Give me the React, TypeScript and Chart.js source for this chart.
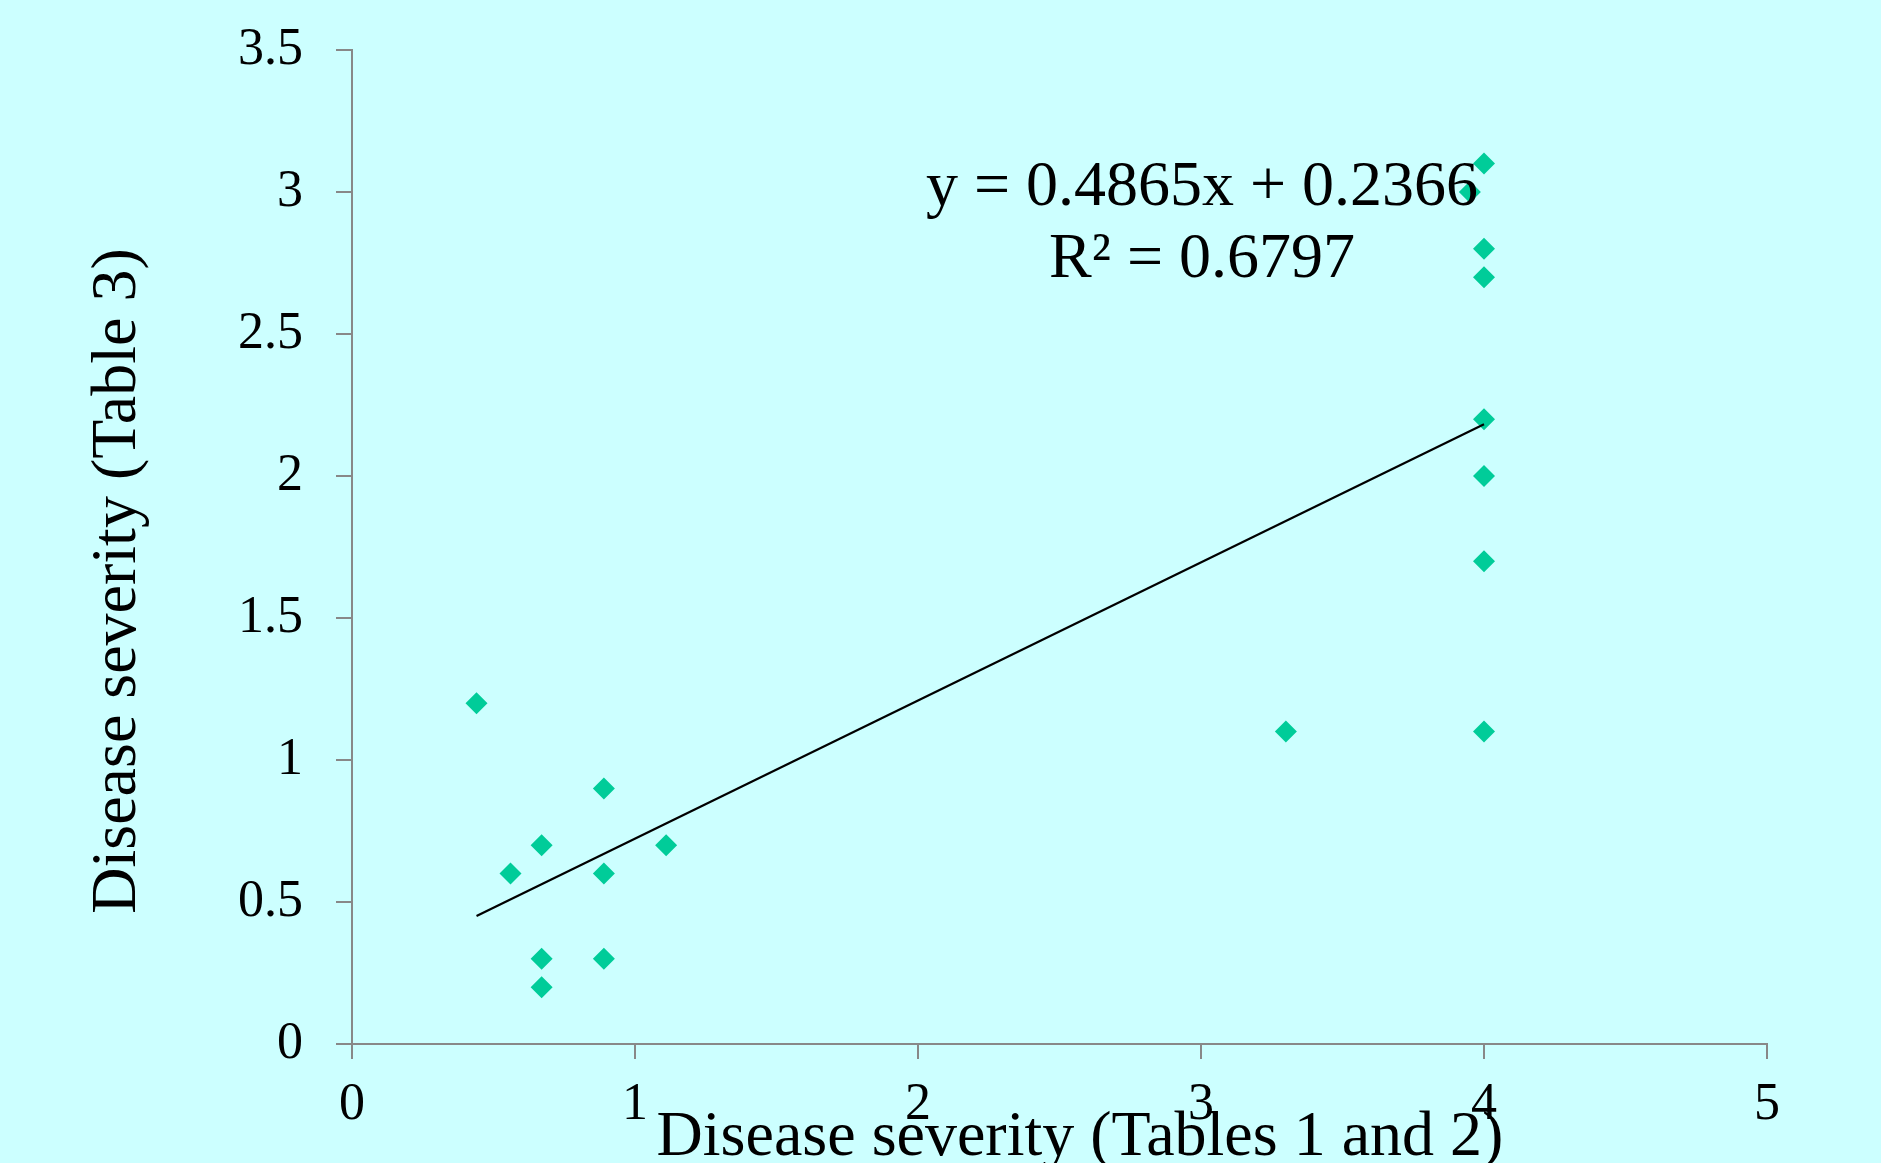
import React, { useEffect, useRef } from 'react';
import { Chart, registerables } from 'chart.js';

Chart.register(...registerables);

// Disease severity, Tables 1 and 2 (x) vs Table 3 (y)
const severityTables12 = [0.44, 0.56, 0.67, 0.67, 0.67, 0.89, 0.89, 0.89, 1.11, 3.3, 3.95, 4, 4, 4, 4, 4, 4, 4];
const severityTable3 = [1.2, 0.6, 0.7, 0.3, 0.2, 0.9, 0.6, 0.3, 0.7, 1.1, 3.0, 1.1, 1.7, 2.0, 2.2, 2.7, 2.8, 3.1];

const xTickValues = [0, 1, 2, 3, 4, 5];
const yTickValues = [0, 0.5, 1, 1.5, 2, 2.5, 3, 3.5];

const trendSlope = 0.4865;
const trendIntercept = 0.2366;
const trendR2 = 0.6797;

const xAxisTitle = 'Disease severity (Tables 1 and 2)';
const yAxisTitle = 'Disease severity (Table 3)';

const FONT = "'Liberation Serif', 'Times New Roman', Times, serif";
const W = 1881;
const H = 1163;

const textPlugin = {
  id: 'chartTexts',
  afterDraw(chart: any) {
    const { ctx } = chart;
    ctx.save();
    ctx.fillStyle = '#000000';
    ctx.font = `64px ${FONT}`;
    ctx.textAlign = 'center';
    ctx.textBaseline = 'alphabetic';
    const eq1 = `y = ${trendSlope}x + ${trendIntercept}`;
    const eq2 = `R\u00B2 = ${trendR2}`;
    ctx.fillText(eq1, 1202, 205);
    ctx.fillText(eq2, 1202, 277);
    ctx.fillText(xAxisTitle, 1080, 1155);
    ctx.translate(135, 581);
    ctx.rotate(-Math.PI / 2);
    ctx.fillText(yAxisTitle, 0, 0);
    ctx.restore();
  },
};

export default function App() {
  const canvasRef = useRef<HTMLCanvasElement | null>(null);

  useEffect(() => {
    document.body.style.margin = '0';
    const canvas = canvasRef.current;
    if (!canvas) return;

    const points = severityTables12.map((x, i) => ({ x, y: severityTable3[i] }));
    const minX = Math.min(...severityTables12);
    const maxX = Math.max(...severityTables12);
    const trend = [
      { x: minX, y: trendSlope * minX + trendIntercept },
      { x: maxX, y: trendSlope * maxX + trendIntercept },
    ];

    const chart = new Chart(canvas, {
      type: 'scatter',
      data: {
        datasets: [
          {
            label: 'Linear trend',
            data: trend,
            showLine: true,
            borderColor: '#000000',
            borderWidth: 2.2,
            pointRadius: 0,
            pointHoverRadius: 0,
            fill: false,
            order: 0,
          } as any,
          {
            label: 'Disease severity',
            data: points,
            pointStyle: 'rectRot',
            pointRadius: 11,
            pointHoverRadius: 11,
            backgroundColor: '#00CC99',
            borderColor: '#00CC99',
            borderWidth: 0,
            showLine: false,
            order: 1,
          } as any,
        ],
      },
      options: {
        responsive: false,
        animation: false,
        devicePixelRatio: 1,
        layout: { padding: { top: 50, right: 114, bottom: 0, left: 0 } },
        plugins: {
          legend: { display: false },
          tooltip: { enabled: false },
          title: { display: false },
        },
        scales: {
          x: {
            type: 'linear',
            position: 'bottom',
            min: 0,
            max: 5,
            afterBuildTicks: (s: any) => {
              s.ticks = xTickValues.map((v) => ({ value: v }));
            },
            afterFit: (s: any) => {
              s.height = 119;
            },
            ticks: {
              font: { family: FONT, size: 52 },
              color: '#000000',
              padding: 15,
              maxRotation: 0,
              autoSkip: false,
              callback: (v: any) => String(v),
            },
            grid: {
              drawOnChartArea: false,
              drawTicks: true,
              tickLength: 15,
              color: '#888888',
              lineWidth: 2,
            },
            border: { display: true, color: '#888888', width: 2 },
          },
          y: {
            type: 'linear',
            position: 'left',
            min: 0,
            max: 3.5,
            afterBuildTicks: (s: any) => {
              s.ticks = yTickValues.map((v) => ({ value: v }));
            },
            afterFit: (s: any) => {
              s.width = 352;
            },
            ticks: {
              font: { family: FONT, size: 52, lineHeight: 0.5 },
              color: '#000000',
              padding: 33,
              autoSkip: false,
              callback: (v: any) => String(v),
            },
            grid: {
              drawOnChartArea: false,
              drawTicks: true,
              tickLength: 16,
              color: '#888888',
              lineWidth: 2,
            },
            border: { display: true, color: '#888888', width: 2 },
          },
        },
      } as any,
      plugins: [textPlugin],
    });

    return () => {
      chart.destroy();
    };
  }, []);

  return (
    <div
      style={{
        position: 'fixed',
        left: 0,
        top: 0,
        width: W,
        height: H,
        overflow: 'hidden',
        background: '#CCFFFF',
      }}
    >
      <canvas ref={canvasRef} width={W} height={H} style={{ display: 'block', width: W, height: H }} />
    </div>
  );
}
